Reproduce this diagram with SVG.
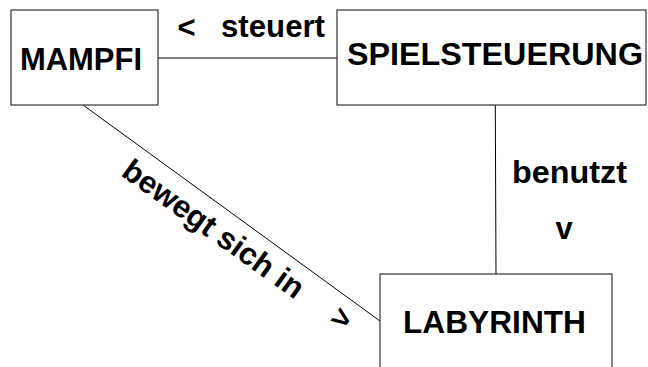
<svg xmlns="http://www.w3.org/2000/svg" width="648" height="367" viewBox="0 0 648 367">
<style>
.box{fill:#fff;stroke:#333;stroke-width:1.2}
.lbl{font-family:"Liberation Sans",Arial,sans-serif;font-weight:bold;fill:#000;font-size:31px}
.edge{stroke:#000;stroke-width:1;fill:none}
</style>
<rect width="648" height="367" fill="#fff"/>
<g id="connectors">
<line class="edge" x1="158" y1="58" x2="337" y2="58"/>
<line class="edge" x1="495.3" y1="105" x2="496" y2="274"/>
<line class="edge" x1="83" y1="105" x2="380" y2="321"/>
<text class="lbl" x="186.5" y="38" text-anchor="middle">&lt;</text>
<text class="lbl" x="221" y="37" textLength="104" lengthAdjust="spacingAndGlyphs">steuert</text>
<text class="lbl" x="512" y="183" textLength="115" lengthAdjust="spacingAndGlyphs">benutzt</text>
<text class="lbl" x="564" y="239" text-anchor="middle">v</text>
<text class="lbl" transform="translate(120,175) rotate(35.5)" x="0" y="0" textLength="215" lengthAdjust="spacingAndGlyphs">bewegt sich in</text>
<text class="lbl" transform="translate(342,318) rotate(36)" x="0" y="11" text-anchor="middle">&gt;</text>
</g>
<g id="mampfi">
<rect class="box" x="11" y="10" width="147" height="95"/>
<text class="lbl" x="20" y="70" textLength="122" lengthAdjust="spacingAndGlyphs">MAMPFI</text>
</g>
<g id="spielsteuerung">
<rect class="box" x="337" y="10" width="309" height="95"/>
<text class="lbl" x="347" y="65" textLength="296" lengthAdjust="spacingAndGlyphs">SPIELSTEUERUNG</text>
</g>
<g id="labyrinth">
<rect class="box" x="380" y="274" width="232" height="110"/>
<text class="lbl" x="403" y="333" textLength="183" lengthAdjust="spacingAndGlyphs">LABYRINTH</text>
</g>
</svg>
